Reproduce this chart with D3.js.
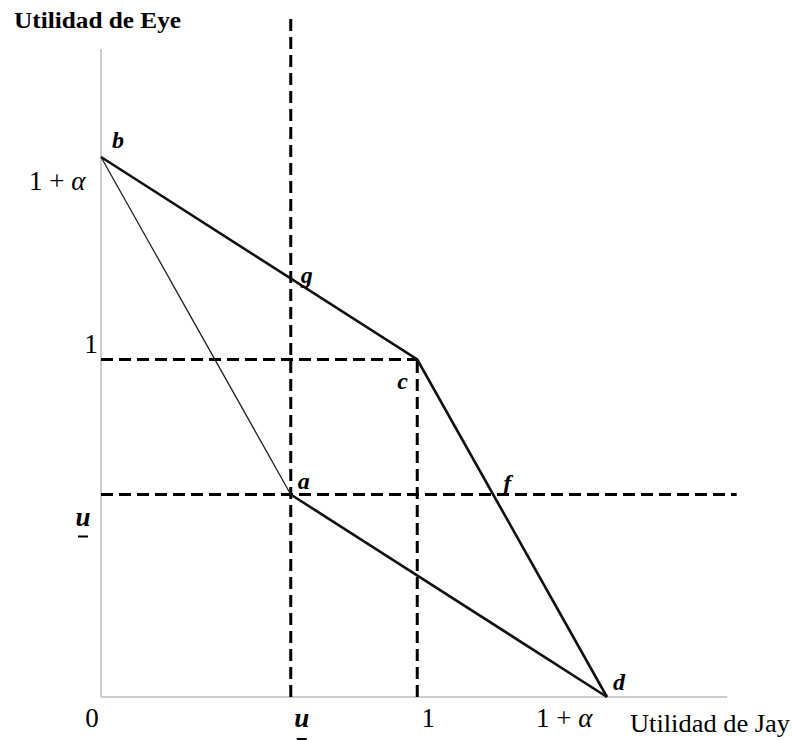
<!DOCTYPE html>
<html><head><meta charset="utf-8">
<script src="https://cdn.jsdelivr.net/npm/d3@7"></script>
<style>body{margin:0;background:#fff}svg{display:block}</style>
</head><body>
<script>
// Data (utility units)
const alpha = 0.6;
const uBar = 0.6;
const frontierOuter = [ {name:"b", x:0, y:1+alpha}, {name:"c", x:1, y:1}, {name:"d", x:1+alpha, y:0} ];
const frontierInner = [ {name:"b", x:0, y:1+alpha}, {name:"a", x:uBar, y:uBar}, {name:"d", x:1+alpha, y:0} ];
const xTickValues = [0, uBar, 1, 1+alpha];
const xTickLabels = ["0", "u", "1", "1 + \u03b1"];
const yTickValues = [1+alpha, 1, uBar];
const yTickLabels = ["1 + \u03b1", "1", "u"];
const pointLabels = [
  {name:"b", x:0, y:1+alpha},
  {name:"g", x:uBar, y:1+alpha - alpha*uBar},
  {name:"c", x:1, y:1},
  {name:"a", x:uBar, y:uBar},
  {name:"f", x:1 + (1-uBar)*alpha, y:uBar},
  {name:"d", x:1+alpha, y:0}
];
const axisXMax = 1.98, axisYMax = 1.92, guideMax = 2.01;

const W = 793, H = 740;
const svg = d3.select("body").append("svg").attr("width", W).attr("height", H);
const x = d3.scaleLinear().domain([0, 1+alpha]).range([101, 607]);
const y = d3.scaleLinear().domain([0, 1+alpha]).range([697, 157]);

const serif = "'Liberation Serif', 'DejaVu Serif', serif";

// axes (gray lines)
svg.append("line").attr("x1", x(0)).attr("x2", x(0)).attr("y1", y(0)).attr("y2", y(axisYMax))
  .attr("stroke", "#bdbdbd").attr("stroke-width", 1.5);
svg.append("line").attr("x1", x(0)).attr("x2", x(axisXMax)).attr("y1", y(0)).attr("y2", y(0))
  .attr("stroke", "#bdbdbd").attr("stroke-width", 1.5);

// dashed guides
const dash = "12,6";
const guides = [
  [[uBar, 0], [uBar, guideMax]],
  [[1, 0], [1, 1]],
  [[0, 1], [1, 1]],
  [[0, uBar], [guideMax, uBar]]
];
guides.forEach(g => {
  svg.append("line").attr("x1", x(g[0][0])).attr("y1", y(g[0][1])).attr("x2", x(g[1][0])).attr("y2", y(g[1][1]))
    .attr("stroke", "#000").attr("stroke-width", 3).attr("stroke-dasharray", dash);
});

// frontiers
const line = d3.line().x(d => x(d.x)).y(d => y(d.y));
svg.append("path").attr("d", line(frontierOuter)).attr("fill", "none").attr("stroke", "#111").attr("stroke-width", 2.6);
svg.append("path").attr("d", line(frontierInner.slice(0,2))).attr("fill", "none").attr("stroke", "#222").attr("stroke-width", 1.3);
svg.append("path").attr("d", line(frontierInner.slice(1,3))).attr("fill", "none").attr("stroke", "#111").attr("stroke-width", 2.6);

// axis titles
svg.append("text").attr("x", 14).attr("y", 28).text("Utilidad de Eye")
  .attr("font-family", serif).attr("font-weight", "bold").attr("font-size", 24)
  .attr("textLength", 167).attr("lengthAdjust", "spacingAndGlyphs").attr("fill", "#000");
svg.append("text").attr("x", 630).attr("y", 732).text("Utilidad de Jay")
  .attr("font-family", serif).attr("font-size", 26)
  .attr("textLength", 160).attr("lengthAdjust", "spacingAndGlyphs").attr("fill", "#000");

// x tick labels
const xOff = {"0": -9, "u": 11, "1": 11, "1 + \u03b1": -71};
xTickValues.forEach((v, i) => {
  const lab = xTickLabels[i];
  const t = svg.append("text").attr("x", x(v) + xOff[lab]).attr("y", 727)
    .attr("font-family", serif).attr("font-size", 27).attr("text-anchor", lab.length > 1 ? "start" : "middle").attr("fill", "#000");
  if (lab === "u") {
    t.text("u").attr("font-weight", "bold").attr("font-style", "italic");
    svg.append("line").attr("x1", x(v) + 6).attr("x2", x(v) + 16).attr("y1", 739).attr("y2", 739).attr("stroke", "#000").attr("stroke-width", 2);
  } else if (lab.length > 1) {
    t.append("tspan").text("1 + ");
    t.append("tspan").text("\u03b1").attr("font-style", "italic");
  } else t.text(lab);
});

// y tick labels
const yOff = {"1 + \u03b1": 33, "1": -7, "u": 31};
yTickValues.forEach((v, i) => {
  const lab = yTickLabels[i];
  const t = svg.append("text").attr("x", lab.length > 1 ? 29 : (lab === "u" ? 83 : 91)).attr("y", y(v) + yOff[lab])
    .attr("font-family", serif).attr("font-size", 27).attr("text-anchor", lab.length > 1 ? "start" : "middle").attr("fill", "#000");
  if (lab === "u") {
    t.text("u").attr("font-weight", "bold").attr("font-style", "italic");
    svg.append("line").attr("x1", 78).attr("x2", 88).attr("y1", y(v) + 42).attr("y2", y(v) + 42).attr("stroke", "#000").attr("stroke-width", 2);
  } else if (lab.length > 1) {
    t.append("tspan").text("1 + ");
    t.append("tspan").text("\u03b1").attr("font-style", "italic");
  } else t.text(lab);
});

// point labels
const pOff = {b:[11,-9], g:[10,4], c:[-20,29], a:[7,-6], f:[10,-4], d:[6,-7]};
pointLabels.forEach(p => {
  svg.append("text").attr("x", x(p.x) + pOff[p.name][0]).attr("y", y(p.y) + pOff[p.name][1])
    .text(p.name).attr("font-family", serif).attr("font-weight", "bold").attr("font-style", "italic")
    .attr("font-size", 24).attr("fill", "#000");
});
</script>
</body></html>
